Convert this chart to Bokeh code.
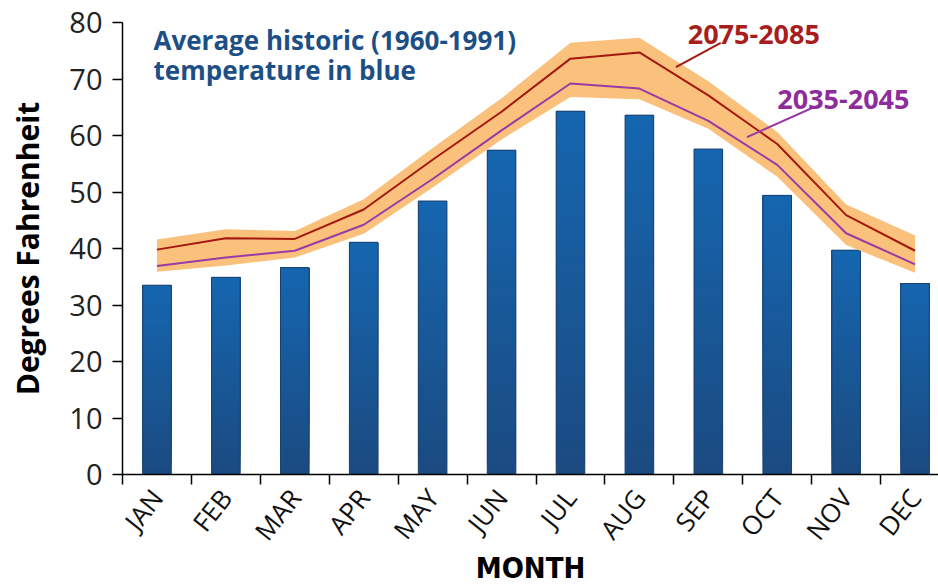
from bokeh.plotting import figure
from bokeh.models import Range1d, FixedTicker, Label
from bokeh.embed import file_html
from bokeh.resources import INLINE

months = ["JAN", "FEB", "MAR", "APR", "MAY", "JUN", "JUL", "AUG", "SEP", "OCT", "NOV", "DEC"]
historic = [33.5, 34.9, 36.6, 41.1, 48.4, 57.4, 64.3, 63.6, 57.6, 49.4, 39.7, 33.8]
late_century = [39.8, 41.8, 41.7, 46.9, 55.7, 64.2, 73.6, 74.7, 67.1, 58.5, 45.9, 39.6]
mid_century = [36.9, 38.4, 39.6, 44.2, 52.3, 60.9, 69.2, 68.3, 62.6, 54.8, 42.7, 37.2]
band_upper = [41.6, 43.4, 43.1, 48.7, 57.8, 66.6, 76.4, 77.3, 69.6, 60.6, 47.8, 42.3]
band_lower = [35.9, 37.0, 38.4, 42.6, 50.8, 59.3, 66.8, 66.4, 61.2, 52.7, 40.6, 35.7]
yticks = [0, 10, 20, 30, 40, 50, 60, 70, 80]

centers = [i + 0.5 for i in range(len(months))]
bounds = [float(i) for i in range(len(months))]

p = figure(width=938, height=588, x_range=Range1d(0, 11.84), y_range=Range1d(0, 80),
           output_backend="svg", toolbar_location=None,
           min_border_left=122, min_border_right=0, min_border_top=22, min_border_bottom=114)
p.grid.visible = False
p.outline_line_color = None
p.background_fill_color = "white"

# gradient bars: overlapping slices, each running to the bar top
def hex2rgb(h):
    h = h.lstrip("#")
    return tuple(int(h[i:i + 2], 16) for i in (0, 2, 4))

top_c = hex2rgb("#1566b0")
bot_c = hex2rgb("#1b4a80")
N = 40
xs, bots, tops, cols = [], [], [], []
for k in range(N):
    f = (k + 0.5) / N
    rgb = tuple(int(round(bot_c[j] + (top_c[j] - bot_c[j]) * f)) for j in range(3))
    for c, v in zip(centers, historic):
        xs.append(c)
        bots.append(v * k / N)
        tops.append(v)
        cols.append("#%02x%02x%02x" % rgb)
p.vbar(x=xs, bottom=bots, top=tops, width=0.415, fill_color=cols, line_color=None)
p.vbar(x=centers, top=historic, bottom=0, width=0.415, fill_alpha=0, line_color="#1a4270", line_width=1)

# band and lines
p.varea(x=centers, y1=band_lower, y2=band_upper, fill_color="#f9c17b")
p.line(centers, late_century, line_color="#a3180f", line_width=2)
p.line(centers, mid_century, line_color="#9a3aa5", line_width=2)

# leader lines
p.segment(x0=[8.68], y0=[76.4], x1=[8.03], y1=[72.1], line_color="#a3180f", line_width=2)
p.segment(x0=[10.03], y0=[65.0], x1=[9.06], y1=[59.7], line_color="#9a3aa5", line_width=2)

for txt, yy in [("Average historic (1960-1991)", 76.9), ("temperature in blue", 71.6)]:
    p.add_layout(Label(x=0.45, y=yy, text=txt, text_font="Open Sans", text_font_style="bold",
                       text_font_size="26px", text_color="#1d4f86", text_baseline="alphabetic"))
p.add_layout(Label(x=9.16, y=77.8, text="2075-2085", text_font="Open Sans", text_font_style="bold",
                   text_font_size="27px", text_color="#a81e1c", text_align="center", text_baseline="alphabetic"))
p.add_layout(Label(x=10.46, y=66.4, text="2035-2045", text_font="Open Sans", text_font_style="bold",
                   text_font_size="27px", text_color="#8e2c9c", text_align="center", text_baseline="alphabetic"))

# x axis
xa = p.xaxis[0]
xa.ticker = FixedTicker(ticks=centers, minor_ticks=bounds)
xa.major_label_overrides = {c: m for c, m in zip(centers, months)}
xa.major_label_orientation = 0.9
xa.major_tick_line_color = None
xa.major_tick_out = 10
xa.major_tick_in = 0
xa.minor_tick_out = 10
xa.minor_tick_in = 0
xa.minor_tick_line_color = "black"
xa.minor_tick_line_width = 1.5
xa.axis_line_width = 1.5
xa.axis_line_color = "black"
xa.major_label_text_font = "Open Sans"
xa.major_label_text_font_size = "26px"
xa.major_label_text_color = "#111111"
xa.major_label_standoff = 8
xa.axis_label = "MONTH"
xa.axis_label_text_font = "DejaVu Sans Condensed"
xa.axis_label_text_font_style = "bold"
xa.axis_label_text_font_size = "29px"
xa.axis_label_text_color = "black"
xa.axis_label_standoff = -11

# y axis
ya = p.yaxis[0]
ya.ticker = FixedTicker(ticks=yticks)
ya.minor_tick_line_color = None
ya.major_tick_out = 10
ya.major_tick_in = 0
ya.major_tick_line_width = 1.5
ya.axis_line_width = 1.5
ya.axis_line_color = "black"
ya.major_label_text_font = "Open Sans"
ya.major_label_text_font_size = "29px"
ya.major_label_text_color = "#222222"
ya.major_label_standoff = 10
ya.axis_label = "Degrees Fahrenheit"
ya.axis_label_text_font = "Open Sans"
ya.axis_label_text_font_style = "bold"
ya.axis_label_text_font_size = "30px"
ya.axis_label_text_color = "black"
ya.axis_label_standoff = 18

open("out.html", "w").write(file_html(p, INLINE))
